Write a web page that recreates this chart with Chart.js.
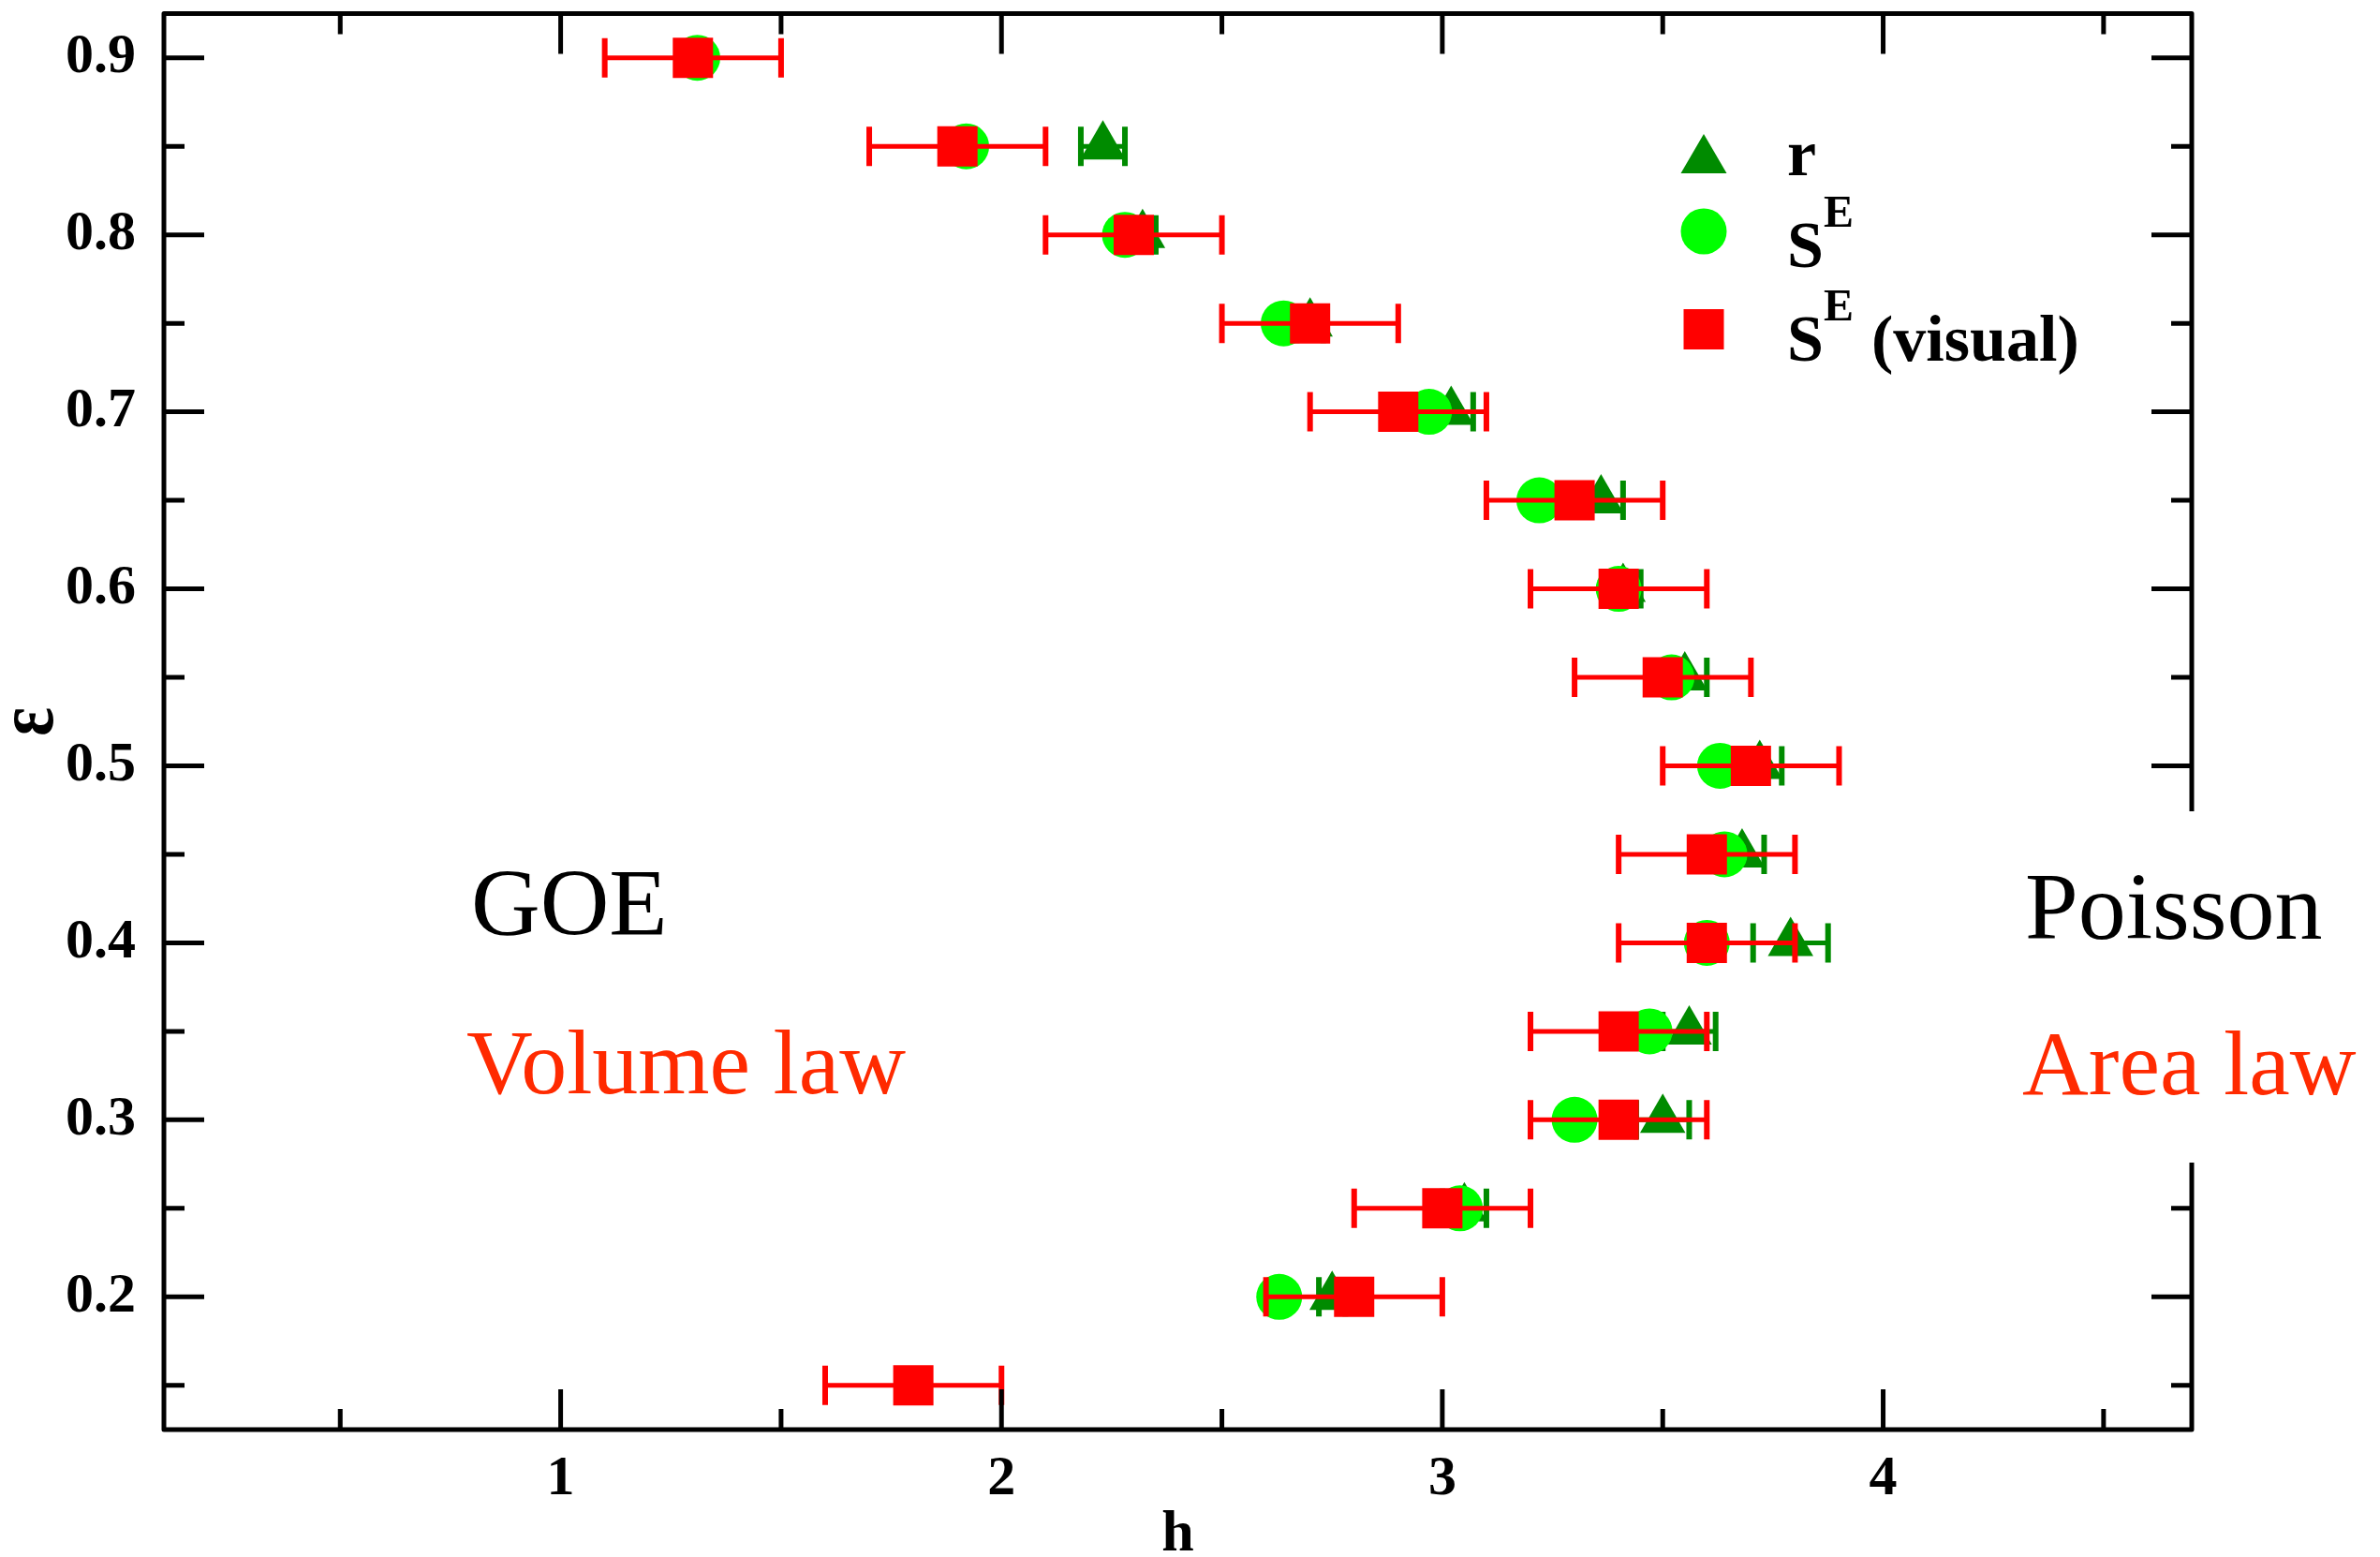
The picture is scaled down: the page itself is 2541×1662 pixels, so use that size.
<!DOCTYPE html>
<html>
<head>
<meta charset="utf-8">
<script src="https://cdn.jsdelivr.net/npm/chart.js@4.4.1/dist/chart.umd.min.js"></script>
<style>
  html, body { margin: 0; padding: 0; background: #fff; }
  #wrap { width: 2541px; height: 1662px; position: relative; }
</style>
</head>
<body>
<div id="wrap"><canvas id="chart"></canvas></div>
<script>
// disorder strength epsilon (y axis)
const epsilon = [0.9, 0.85, 0.8, 0.75, 0.7, 0.65, 0.6, 0.55, 0.5, 0.45, 0.4, 0.35, 0.3, 0.25, 0.2, 0.15];
// critical h from level spacing ratio r
const hR    = [null, 2.23, 2.32, 2.70, 3.02, 3.36, 3.41, 3.55, 3.72, 3.68, 3.79, 3.56, 3.50, 3.05, 2.75, null];
const hRErr = [null, 0.05, 0.03, 0.03, 0.05, 0.05, 0.04, 0.05, 0.05, 0.05, 0.085, 0.06, 0.06, 0.05, 0.03, null];
// critical h from entanglement entropy S^E
const hS = [1.31, 1.92, 2.28, 2.64, 2.97, 3.22, 3.40, 3.52, 3.63, 3.64, 3.60, 3.47, 3.30, 3.04, 2.63, null];
// critical h from S^E, read visually
const hVisual    = [1.3, 1.9, 2.3, 2.7, 2.9, 3.3, 3.4, 3.5, 3.7, 3.6, 3.6, 3.4, 3.4, 3.0, 2.8, 1.8];
const hVisualErr = [0.2, 0.2, 0.2, 0.2, 0.2, 0.2, 0.2, 0.2, 0.2, 0.2, 0.2, 0.2, 0.2, 0.2, 0.2, 0.2];

const xTicks = [1, 2, 3, 4];
const xMinorTicks = [0.5, 1.5, 2.5, 3.5, 4.5];
const yTicks = [0.2, 0.3, 0.4, 0.5, 0.6, 0.7, 0.8, 0.9];
const yMinorTicks = [0.15, 0.25, 0.35, 0.45, 0.55, 0.65, 0.75, 0.85];

const SERIF = "'Liberation Serif', 'Times New Roman', serif";
const DARK_GREEN = "#008b00";
const LIME = "#00ff00";
const RED = "#ff0000";
const TEXT_RED = "#ff2a00";

function points(xs, errs) {
  const out = [];
  epsilon.forEach((e, i) => {
    if (xs[i] === null) return;
    out.push({ x: xs[i], y: e, err: errs ? errs[i] : null });
  });
  return out;
}

// horizontal error bars, drawn right after their own dataset
const errorBars = {
  id: "errorBars",
  afterDatasetDraw(chart, args) {
    const ds = chart.data.datasets[args.index];
    if (!ds.errorColor) return;
    const xs = chart.scales.x, ys = chart.scales.y, ctx = chart.ctx;
    ctx.save();
    ctx.strokeStyle = ds.errorColor;
    ds.data.forEach(p => {
      if (!p.err) return;
      const y = ys.getPixelForValue(p.y);
      const x0 = xs.getPixelForValue(p.x - p.err);
      const x1 = xs.getPixelForValue(p.x + p.err);
      ctx.lineWidth = 5;
      ctx.beginPath(); ctx.moveTo(x0, y); ctx.lineTo(x1, y); ctx.stroke();
      ctx.lineWidth = 6;
      ctx.beginPath();
      ctx.moveTo(x0, y - 21); ctx.lineTo(x0, y + 21);
      ctx.moveTo(x1, y - 21); ctx.lineTo(x1, y + 21);
      ctx.stroke();
    });
    ctx.restore();
  }
};

// frame with inward ticks, legend, labels and annotations
const decorations = {
  id: "decorations",
  afterDraw(chart) {
    const ctx = chart.ctx, a = chart.chartArea;
    const xs = chart.scales.x, ys = chart.scales.y;
    ctx.save();
    ctx.strokeStyle = "#000";
    ctx.lineWidth = 5;
    ctx.lineJoin = "round";
    ctx.strokeRect(a.left, a.top, a.right - a.left, a.bottom - a.top);

    const tick = (len, list, vertical) => {
      list.forEach(v => {
        ctx.beginPath();
        if (vertical) {
          const x = xs.getPixelForValue(v);
          ctx.moveTo(x, a.bottom); ctx.lineTo(x, a.bottom - len);
          ctx.moveTo(x, a.top); ctx.lineTo(x, a.top + len);
        } else {
          const y = ys.getPixelForValue(v);
          ctx.moveTo(a.left, y); ctx.lineTo(a.left + len, y);
          ctx.moveTo(a.right, y); ctx.lineTo(a.right - len, y);
        }
        ctx.stroke();
      });
    };
    tick(43, xTicks, true);
    tick(22, xMinorTicks, true);
    tick(43, yTicks, false);
    tick(22, yMinorTicks, false);

    // axis titles
    ctx.fillStyle = "#000";
    ctx.font = "bold 62px " + SERIF;
    ctx.textAlign = "center";
    ctx.textBaseline = "alphabetic";
    ctx.fillText("h", (a.left + a.right) / 2, 1655);
    ctx.save();
    ctx.translate(56, (a.top + a.bottom) / 2);
    ctx.rotate(-Math.PI / 2);
    ctx.scale(1, 1.2);
    ctx.font = "bold 72px " + SERIF;
    ctx.fillText("\u03b5", 0, 0);
    ctx.restore();

    // legend
    const lx = 1819;
    ctx.fillStyle = DARK_GREEN;
    ctx.beginPath();
    ctx.moveTo(lx, 143); ctx.lineTo(lx + 24.5, 185); ctx.lineTo(lx - 24.5, 185);
    ctx.closePath(); ctx.fill();
    ctx.fillStyle = LIME;
    ctx.beginPath(); ctx.arc(lx, 247, 24.5, 0, Math.PI * 2); ctx.fill();
    ctx.fillStyle = RED;
    ctx.fillRect(lx - 21.5, 330, 43, 43);

    ctx.fillStyle = "#000";
    ctx.textAlign = "left";
    ctx.font = "bold 70px " + SERIF;
    ctx.fillText("r", 1908, 187);
    ctx.fillText("S", 1908, 285);
    ctx.fillText("S", 1908, 385);
    ctx.fillText("(visual)", 1998, 385);
    ctx.font = "bold 48px " + SERIF;
    ctx.fillText("E", 1947, 242);
    ctx.fillText("E", 1947, 342);

    // phase annotations
    ctx.fillStyle = "#fff";
    ctx.fillRect(2150, 866, 380, 375);
    ctx.font = "102px " + SERIF;
    ctx.fillStyle = "#000";
    ctx.fillText("GOE", 503, 998);
    ctx.fillText("Poisson", 2162, 1002);
    ctx.font = "98px " + SERIF;
    ctx.fillStyle = TEXT_RED;
    ctx.fillText("Volume law", 498, 1167);
    ctx.fillText("Area law", 2159, 1168);
    ctx.restore();
  }
};

const tickFont = { family: SERIF, weight: "bold", size: 60 };

new Chart(document.getElementById("chart"), {
  type: "scatter",
  data: {
    datasets: [
      {
        label: "S^E (visual)",
        data: points(hVisual, hVisualErr),
        pointStyle: "rect",
        pointRadius: 30.4,
        backgroundColor: RED,
        borderWidth: 0,
        errorColor: RED,
        order: 1
      },
      {
        label: "S^E",
        data: points(hS, null),
        pointStyle: "circle",
        pointRadius: 24.5,
        backgroundColor: LIME,
        borderWidth: 0,
        order: 2
      },
      {
        label: "r",
        data: points(hR, hRErr),
        pointStyle: "triangle",
        pointRadius: 28,
        backgroundColor: DARK_GREEN,
        borderWidth: 0,
        errorColor: DARK_GREEN,
        order: 3
      }
    ]
  },
  options: {
    responsive: true,
    maintainAspectRatio: false,
    animation: false,
    events: [],
    layout: { autoPadding: false, padding: { left: 0, right: 201, top: 14.5, bottom: 0 } },
    plugins: { legend: { display: false }, tooltip: { enabled: false } },
    scales: {
      x: {
        type: "linear",
        min: 0.1,
        max: 4.7,
        grid: { display: false },
        border: { display: false },
        afterBuildTicks: s => { s.ticks = xTicks.map(v => ({ value: v })); },
        afterFit: s => { s.height = 136; s.paddingLeft = 0; s.paddingRight = 0; },
        ticks: { font: tickFont, color: "#000", padding: 9, maxRotation: 0, callback: v => String(v) }
      },
      y: {
        type: "linear",
        min: 0.125,
        max: 0.925,
        grid: { display: false },
        border: { display: false },
        afterBuildTicks: s => { s.ticks = yTicks.map(v => ({ value: v })); },
        afterFit: s => { s.width = 175; s.paddingTop = 0; s.paddingBottom = 0; },
        ticks: { font: tickFont, color: "#000", padding: 22, callback: v => v.toFixed(1) }
      }
    }
  },
  plugins: [errorBars, decorations]
});
</script>
</body>
</html>
